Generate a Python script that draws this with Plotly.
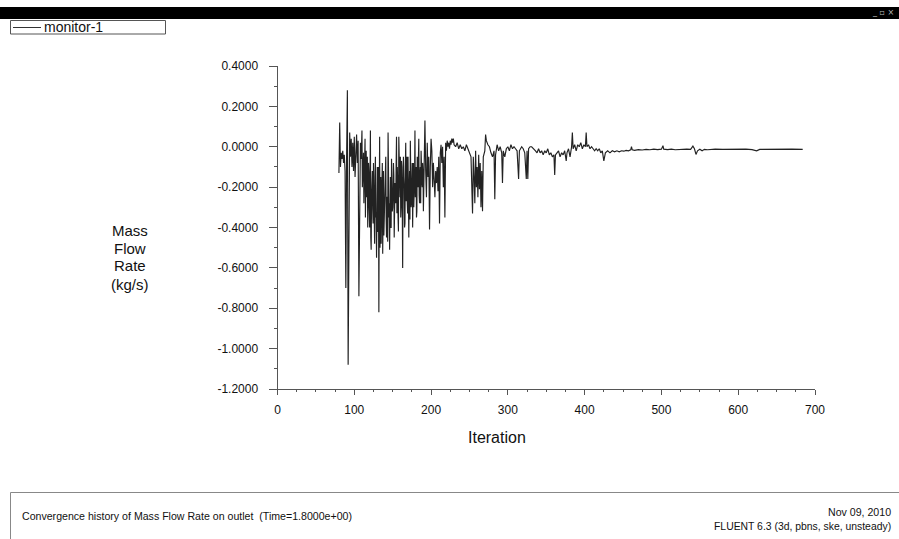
import plotly.graph_objects as go

# ---- data ----
iter_noisy = list(range(80, 231))
flow_noisy = [
    -0.13, 0.12, -0.10, -0.03, -0.06, -0.02, -0.08, -0.04, -0.12, -0.70,
    -0.05, 0.28, -1.08, -0.30, 0.07, -0.05, 0.04, -0.10, 0.02, -0.12,
    0.05, -0.15, -0.02, 0.06, -0.08, 0.03, -0.74, -0.10, 0.02, -0.06,
    0.08, -0.12, -0.03, -0.18, 0.04, -0.09, -0.25, -0.05, -0.30, -0.12,
    -0.40, 0.08, -0.51, -0.20, -0.31, -0.08, -0.45, -0.15, -0.35, -0.55,
    -0.10, -0.42, -0.82, 0.05, -0.30, -0.48, -0.18, -0.53, -0.12, -0.38,
    -0.22, -0.05, -0.45, -0.25, 0.07, -0.35, -0.51, -0.15, -0.40, -0.20,
    -0.30, -0.08, -0.45, -0.18, -0.28, 0.05, -0.10, -0.35, 0.05, -0.22,
    -0.05, -0.30, -0.10, -0.60, -0.05, -0.20, -0.38, 0.02, -0.15, -0.28,
    -0.05, -0.45, -0.12, 0.03, -0.30, -0.18, -0.40, -0.08, -0.25, 0.08,
    -0.15, -0.35, -0.05, -0.20, 0.04, -0.28, -0.10, -0.02, -0.18, -0.08,
    -0.32, -0.05, 0.13, -0.12, -0.25, 0.02, -0.15, -0.05, -0.41, -0.10,
    0.04, -0.02, -0.20, -0.08, -0.15, -0.25, -0.12, -0.18, -0.10, -0.22,
    -0.05, -0.38, -0.03, 0.01, -0.08, 0.00, -0.20, -0.05, -0.35, 0.02,
    -0.02, 0.03, 0.00, 0.02, -0.01, 0.03, 0.01, 0.04, 0.02, 0.04,
    0.01,
]

# extra sub-iteration samples in the densest band
iter_half = [i + 0.5 for i in range(110, 190)]
flow_half = [
    -0.20, -0.05, -0.28, -0.10, -0.35, -0.02, -0.22, -0.40, -0.08, -0.30,
    -0.15, -0.45, -0.25, -0.12, -0.38, -0.20, -0.48, -0.05, -0.33, -0.18,
    -0.42, -0.10, -0.28, -0.50, -0.15, -0.36, -0.08, -0.30, -0.44, -0.20,
    -0.12, -0.35, -0.25, -0.47, -0.10, -0.28, -0.18, -0.40, -0.06, -0.32,
    -0.22, -0.14, -0.38, -0.26, -0.09, -0.33, -0.18, -0.42, -0.12, -0.25,
    -0.35, -0.07, -0.30, -0.20, -0.15, -0.40, -0.10, -0.27, -0.05, -0.33,
    -0.18, -0.22, -0.36, -0.12, -0.28, -0.08, -0.20, -0.30, -0.15, -0.25,
    -0.10, -0.32, -0.18, -0.06, -0.24, -0.14, -0.28, -0.09, -0.20, -0.12,
]

iter_mid = [232, 234, 236, 238, 240, 242, 244, 246, 248, 250, 252, 254, 255,
            256, 257, 258, 259, 260, 261, 262, 263, 264, 265, 266, 267, 268,
            270, 271, 272, 274, 276, 278, 280, 282, 283, 284, 286, 288, 290,
            292, 293, 294, 296, 298, 300, 302, 304, 306, 308, 310, 312, 314,
            315, 318, 320, 322, 324, 325, 326, 327, 329, 331, 334]
flow_mid = [0.00, 0.02, -0.01, 0.01, -0.01, 0.00, -0.02, 0.01, -0.01, -0.02,
            -0.05, -0.33, -0.05, -0.15, -0.28, -0.02, -0.20, -0.10, -0.25,
            -0.04, -0.21, -0.08, -0.30, -0.12, -0.32, -0.05, -0.02, 0.06,
            0.03, 0.01, 0.00, -0.03, -0.05, -0.02, -0.26, -0.04, 0.01, -0.02,
            0.00, -0.03, -0.18, -0.02, -0.05, -0.01, 0.00, -0.02, 0.01, -0.01,
            0.00, -0.01, -0.02, -0.16, -0.02, 0.00, -0.01, -0.03, -0.16, -0.02,
            -0.16, -0.01, 0.00, 0.00, -0.01]

iter_late = [336, 338, 340, 342, 344, 346, 348, 350, 352, 354, 356, 358, 360,
             361, 362, 364, 366, 368, 370, 372, 374, 376, 377, 379, 381, 383,
             384, 385, 387, 389, 391, 393, 395, 397, 399, 401, 402, 403, 405,
             407, 409, 411, 413, 415, 417, 419, 421, 423, 425, 427, 430, 433,
             436, 439, 442, 445, 448, 451, 454, 457, 460, 461, 462, 465, 470,
             475, 480, 485, 490, 495, 500, 502, 503, 508, 513, 518, 523, 528,
             533, 538, 541, 543, 545, 547, 550, 553, 556, 560, 565, 570, 580,
             590, 600, 610, 618, 624, 628, 640, 650, 660, 670, 684]
flow_late = [-0.02, -0.03, -0.01, -0.03, -0.02, -0.04, -0.02, -0.03, -0.01,
             -0.04, -0.03, -0.05, -0.04, -0.14, -0.04, -0.03, -0.02, -0.05,
             -0.03, -0.04, -0.02, -0.07, -0.03, -0.01, -0.05, 0.00, 0.07,
             -0.01, 0.01, -0.02, 0.01, 0.00, 0.02, -0.01, 0.01, 0.00, 0.07,
             0.00, 0.01, -0.01, 0.00, -0.01, -0.02, -0.01, -0.02, -0.01,
             -0.03, -0.02, -0.07, -0.03, -0.02, -0.03, -0.02, -0.025, -0.02,
             -0.025, -0.02, -0.022, -0.018, -0.02, -0.015, 0.00, -0.015,
             -0.018, -0.014, -0.016, -0.013, -0.015, -0.012, -0.014, -0.012,
             0.005, -0.012, -0.014, -0.012, -0.015, -0.013, -0.014, -0.012,
             -0.013, 0.003, -0.01, -0.038, -0.02, -0.012, -0.02, -0.013,
             -0.015, -0.012, -0.012, -0.013, -0.012, -0.013, -0.012, -0.014,
             -0.02, -0.013, -0.012, -0.013, -0.012, -0.012, -0.013]

pairs = sorted(zip(iter_noisy + iter_half + iter_mid + iter_late,
                   flow_noisy + flow_half + flow_mid + flow_late))
iterations = [p[0] for p in pairs]
mass_flow = [p[1] for p in pairs]

y_ticks = [0.4, 0.2, 0.0, -0.2, -0.4, -0.6, -0.8, -1.0, -1.2]
y_tick_labels = ["0.4000", "0.2000", "0.0000", "-0.2000", "-0.4000",
                 "-0.6000", "-0.8000", "-1.0000", "-1.2000"]
x_ticks = [0, 100, 200, 300, 400, 500, 600, 700]
y_title_lines = ["Mass", "Flow", "Rate", "(kg/s)"]

W, H = 899, 539


def px(x):
    return x / W


def py(y):
    return 1 - y / H


FONT = "Liberation Sans, Arial, sans-serif"
INK = "#111111"

fig = go.Figure()
fig.add_trace(go.Scatter(
    x=iterations, y=mass_flow, mode="lines",
    line=dict(color="#222222", width=1.15),
    showlegend=False, hoverinfo="skip",
))

axis_common = dict(
    showgrid=False, zeroline=False, showline=True, linecolor="#555",
    linewidth=1, ticks="outside", tickcolor="#555", tickwidth=1,
    tickfont=dict(family=FONT, size=12, color=INK),
)

fig.update_layout(
    width=W, height=H,
    margin=dict(l=0, r=0, t=0, b=0, autoexpand=False),
    paper_bgcolor="white", plot_bgcolor="white",
    xaxis=dict(
        **axis_common,
        domain=[px(277.5), px(815)],
        range=[0, 700], tickvals=x_ticks, ticklen=5,
        ticklabelstandoff=5,
        minor=dict(dtick=25, tick0=0, ticks="outside", ticklen=2,
                   tickcolor="#555"),
    ),
    yaxis=dict(
        **axis_common,
        domain=[py(389), py(66)],
        range=[-1.2, 0.4], tickvals=y_ticks, ticktext=y_tick_labels,
        ticklen=8, ticklabelstandoff=8,
        minor=dict(dtick=0.1, tick0=0, ticks="outside", ticklen=3,
                   tickcolor="#555"),
    ),
)

shapes = [
    # top title bar
    dict(type="rect", xref="paper", yref="paper", x0=0, x1=1,
         y0=py(19), y1=py(7), fillcolor="black", line=dict(width=0),
         layer="above"),
    # legend box
    dict(type="rect", xref="paper", yref="paper", x0=px(10.5), x1=px(165.5),
         y0=py(34), y1=py(20.5), fillcolor="white",
         line=dict(color="#555", width=1)),
    dict(type="line", xref="paper", yref="paper", x0=px(13), x1=px(41),
         y0=py(27.5), y1=py(27.5), line=dict(color="#333", width=1)),
    # bottom info box
    dict(type="rect", xref="paper", yref="paper", x0=px(10.5), x1=px(905),
         y0=py(545), y1=py(492.5), fillcolor="rgba(0,0,0,0)",
         line=dict(color="#888", width=1)),
]
fig.update_layout(shapes=shapes)

annotations = [
    dict(text="monitor-1", x=px(42), y=py(27.5), xanchor="left",
         yanchor="middle", font=dict(family=FONT, size=14, color=INK)),
    dict(text="_ ▫ ×", x=px(896), y=py(13), xanchor="right",
         yanchor="middle", font=dict(family="DejaVu Sans", size=8,
                                     color="#bbbbbb")),
    dict(text="Iteration", x=px(497), y=py(437), xanchor="center",
         yanchor="middle", font=dict(family=FONT, size=16, color=INK)),
    dict(text="Convergence history of Mass Flow Rate on outlet  (Time=1.8000e+00)",
         x=px(20), y=py(516), xanchor="left", yanchor="middle",
         font=dict(family=FONT, size=10.6, color=INK)),
    dict(text="Nov 09, 2010", x=px(893), y=py(512), xanchor="right",
         yanchor="middle", font=dict(family=FONT, size=10.6, color=INK)),
    dict(text="FLUENT 6.3 (3d, pbns, ske, unsteady)", x=px(893), y=py(526),
         xanchor="right", yanchor="middle",
         font=dict(family=FONT, size=10.4, color=INK)),
]
for k, line in enumerate(y_title_lines):
    annotations.append(dict(text=line, x=px(130), y=py(230 + 18 * k),
                            xanchor="center", yanchor="middle",
                            font=dict(family=FONT, size=15, color=INK)))
for a in annotations:
    a.update(xref="paper", yref="paper", showarrow=False)
fig.update_layout(annotations=annotations)

fig.write_html("out.html")
